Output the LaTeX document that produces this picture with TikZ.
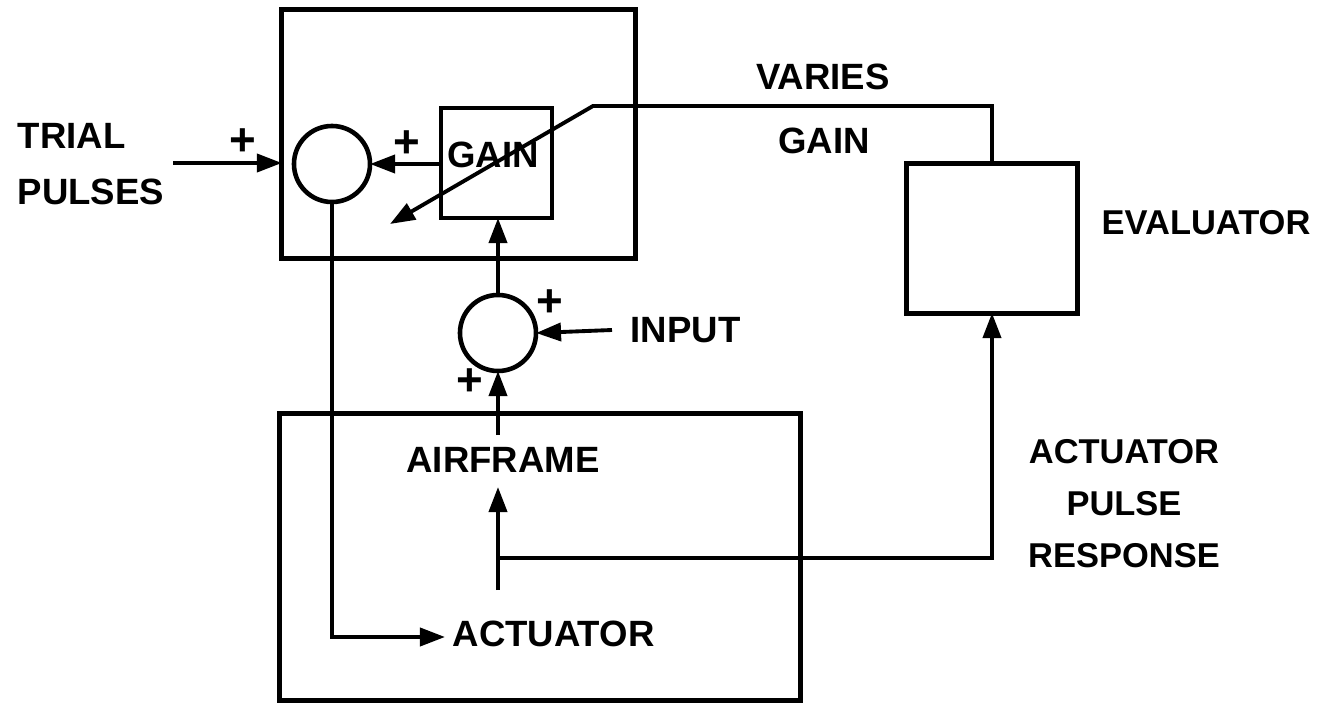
\documentclass[tikz,border=0pt]{standalone}
\usepackage{fontspec}
\setmainfont{Liberation Sans}
\usetikzlibrary{arrows.meta,calc}
\begin{document}
\begin{tikzpicture}[x=0.01cm,y=-0.01cm,
  lbl/.style={font=\fontsize{10.4}{14.8}\selectfont\bfseries, inner sep=0pt},
  lbls/.style={font=\fontsize{9.8}{14.8}\selectfont\bfseries, inner sep=0pt},
  plus/.style={font=\fontsize{13}{14}\selectfont\bfseries, inner sep=0pt},
  blk/.style={draw, line width=1.4pt, inner sep=0pt, outer sep=0pt},
  sumc/.style={draw, circle, line width=1.3pt, minimum size=0.76cm, inner sep=0pt, outer sep=0pt},
  wire/.style={line width=1.1pt},
  arr/.style={wire, -{Triangle[length=0.25cm, width=0.18cm]}}
]
\useasboundingbox (0,0) rectangle (1338,703);
% blocks
\node[blk, minimum width=3.53cm, minimum height=2.48cm] (top) at (458.5,134) {};
\node[blk, minimum width=1.11cm, minimum height=1.10cm] (gainbox) at (496.5,163) {};
\node[blk, minimum width=1.70cm, minimum height=1.49cm] (eval) at (992,238.5) {};
\node[blk, minimum width=5.20cm, minimum height=2.86cm] (low) at (540,557) {};
\node[sumc] (s1) at (332,164) {};
\node[sumc] (s2) at (498,333) {};
% texts
\node[lbl, anchor=west] (trial) at (17,136) {TRIAL};
\node[lbl, anchor=west] (pulses) at (17,192) {PULSES};
\node[lbl] (gaintxt) at (493,155) {GAIN};
\node[lbl] (varies) at (823,77) {VARIES};
\node[lbl] (vgain) at (824,141) {GAIN};
\node[lbls, anchor=west] (evaltxt) at (1101,223) {EVALUATOR};
\node[lbl, anchor=west] (inputtxt) at (630,330) {INPUT};
\node[lbl] (airframe) at (503,460) {AIRFRAME};
\node[lbl, anchor=west] (actuator) at (452,634) {ACTUATOR};
\node[lbls, align=center] (apr) at (1124,504) {ACTUATOR\\PULSE\\RESPONSE};
% plus signs
\node[plus] (p1) at (243,142) {+};
\node[plus] (p2) at (407,144) {+};
\node[plus] (p3) at (550,303) {+};
\node[plus] (p4) at (470,382) {+};
% coordinates
\coordinate (tin) at (173,163);
\coordinate (inp) at (612,330);
\coordinate (aftop) at (498,435);
\coordinate (afbot) at (498,487);
\coordinate (actout) at (498,590);
\coordinate (br) at (498,558);
\coordinate (actin) at (445,637);
\coordinate (knee) at (593,106);
\coordinate (vtip) at (390,224);
% connectors
\draw[arr] (tin) -- (tin -| top.west);
\draw[arr] (gainbox.west |- s1) -- (s1.east);
\draw[arr] (s2.north) -- (s2.north |- gainbox.south);
\draw[arr] (inp) -- (s2.east);
\draw[arr] (aftop) -- (s2.south);
\draw[arr] (actout) -- (afbot);
\draw[arr] (br) -- (br -| eval.south) -- (eval.south);
\draw[arr] (s1.south) |- (actin);
\draw[arr] (eval.north) -- (eval.north |- knee) -- (knee) -- (vtip);
\end{tikzpicture}
\end{document}
